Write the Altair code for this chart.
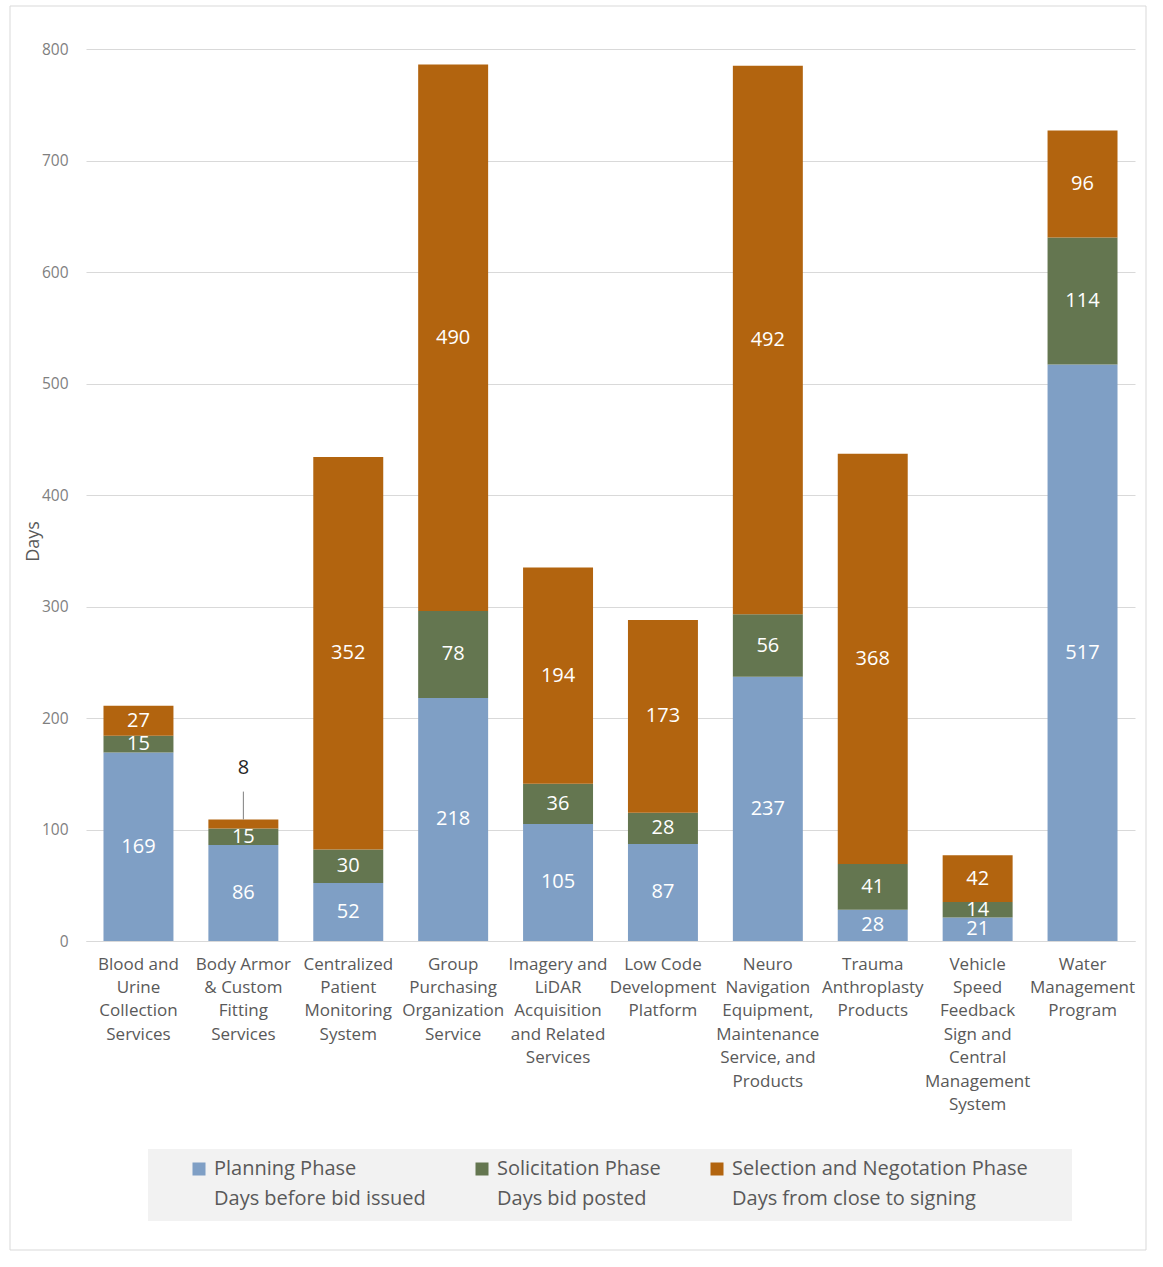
import altair as alt
import pandas as pd

categories = [
    "Blood and\nUrine\nCollection\nServices",
    "Body Armor\n& Custom\nFitting\nServices",
    "Centralized\nPatient\nMonitoring\nSystem",
    "Group\nPurchasing\nOrganization\nService",
    "Imagery and\nLiDAR\nAcquisition\nand Related\nServices",
    "Low Code\nDevelopment\nPlatform",
    "Neuro\nNavigation\nEquipment,\nMaintenance\nService, and\nProducts",
    "Trauma\nAnthroplasty\nProducts",
    "Vehicle\nSpeed\nFeedback\nSign and\nCentral\nManagement\nSystem",
    "Water\nManagement\nProgram",
]
planning = [169, 86, 52, 218, 105, 87, 237, 28, 21, 517]
solicitation = [15, 15, 30, 78, 36, 28, 56, 41, 14, 114]
selection = [27, 8, 352, 490, 194, 173, 492, 368, 42, 96]

phases = ["Planning Phase", "Solicitation Phase", "Selection and Negotation Phase"]
phase_notes = ["Days before bid issued", "Days bid posted", "Days from close to signing"]
colors = ["#7f9fc5", "#647650", "#b2640f"]
y_ticks = [0, 100, 200, 300, 400, 500, 600, 700, 800]

rows = []
callouts = []
for i, cat in enumerate(categories):
    base = 0
    for k, (ph, vals) in enumerate(zip(phases, [planning, solicitation, selection])):
        v = vals[i]
        rows.append(dict(category=cat, phase=ph, order=k, days=v,
                         start=base, end=base + v, mid=base + v / 2,
                         inside=v >= 10))
        base += v
    if selection[i] < 10:
        callouts.append(dict(category=cat, days=selection[i], total=base))
df = pd.DataFrame(rows)
cdf = pd.DataFrame(callouts)
cdf["line_top"] = cdf["total"] + 25
cdf["text_y"] = cdf["total"] + 46

label_map = " : ".join(
    f"datum.label == '{p}' ? ['{p}', '{n}']" for p, n in zip(phases[:-1], phase_notes[:-1])
) + f" : ['{phases[-1]}', '{phase_notes[-1]}']"

FONT = "Open Sans"
x_enc = alt.X(
    "category:N", sort=categories,
    scale=alt.Scale(paddingInner=0.333, paddingOuter=0.1667),
    axis=alt.Axis(title=None, labelAngle=0, labelFontSize=17, labelColor="#595959",
                  labelLineHeight=23.4, labelPadding=15, labelBaseline="top",
                  labelLimit=300, ticks=False, domainColor="#d9d9d9",
                  labelExpr="split(datum.label, '\\n')"),
)
y_scale = alt.Scale(domain=[0, 800], nice=False)

bars = alt.Chart(df).mark_bar().encode(
    x=x_enc,
    y=alt.Y("start:Q", scale=y_scale,
            axis=alt.Axis(title="Days", values=y_ticks, domain=False, ticks=False,
                          gridColor="#d9d9d9", labelFontSize=15.5, labelColor="#7f7f7f",
                          labelPadding=18, titleFontSize=18, titleColor="#595959",
                          titleFontWeight="normal", titleAngle=-90, titleAlign="center",
                          titleBaseline="middle", titleX=-53, titleY=492)),
    y2="end:Q",
    color=alt.Color("phase:N", sort=phases,
                    scale=alt.Scale(domain=phases, range=colors),
                    legend=alt.Legend(title=None, orient="none", legendX=103, legendY=1110,
                                      direction="horizontal", symbolType="square",
                                      symbolSize=169, symbolStrokeWidth=0,
                                      labelFontSize=20, labelColor="#595959",
                                      labelLimit=600,
                                      labelOffset=5, columnPadding=46, padding=0,
                                      labelExpr=label_map)),
    order=alt.Order("order:Q"),
)

labels = alt.Chart(df).transform_filter("datum.inside").mark_text(
    color="white", fontSize=20, baseline="middle", align="center"
).encode(x=alt.X("category:N", sort=categories), y=alt.Y("mid:Q", scale=y_scale),
         text="days:Q")

call_line = alt.Chart(cdf).mark_rule(color="#7f7f7f", strokeWidth=1).encode(
    x=alt.X("category:N", sort=categories), y=alt.Y("total:Q", scale=y_scale), y2="line_top:Q")
call_text = alt.Chart(cdf).mark_text(color="#262626", fontSize=20, baseline="middle").encode(
    x=alt.X("category:N", sort=categories), y=alt.Y("text_y:Q", scale=y_scale), text="days:Q")

one = pd.DataFrame({"k": [0]})
legend_bg = alt.Chart(one).mark_rect(color="#f2f2f2").encode(
    x=alt.value(62), x2=alt.value(986), y=alt.value(1100), y2=alt.value(1172))
border = alt.Chart(one).mark_rect(fill=None, stroke="#d9d9d9", strokeWidth=1).encode(
    x=alt.value(-76), x2=alt.value(1060), y=alt.value(-43), y2=alt.value(1201))

chart = alt.layer(border, legend_bg, bars, labels, call_line, call_text).properties(
    width=1049, height=892,
    padding={"left": 9, "top": 5, "right": 5, "bottom": 5},
).configure(
    font=FONT, style={"guide-label": {"lineHeight": 30}}
).configure_view(stroke=None).configure_axis(labelFont=FONT, titleFont=FONT)

chart.save("out.html", embed_options={"renderer": "svg", "actions": False})
